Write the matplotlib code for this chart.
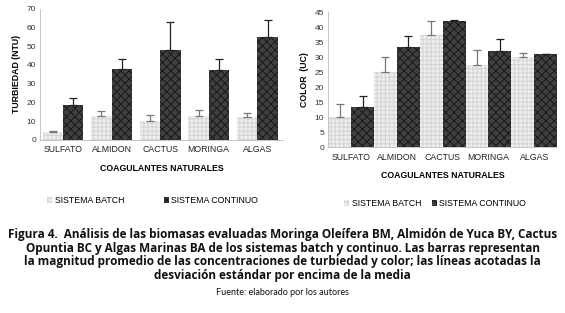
"""Figura 4: turbiedad y color por coagulante, sistemas batch y continuo."""
import numpy as np
import matplotlib
matplotlib.use('Agg')
import matplotlib.pyplot as plt
from matplotlib.patches import Patch

categories = ['SULFATO', 'ALMIDON', 'CACTUS', 'MORINGA', 'ALGAS']

# Turbiedad (NTU): media y desviacion estandar
turb_batch = [4, 13, 10, 13, 12]
turb_batch_sd = [1, 2.5, 3.5, 3, 2.5]
turb_cont = [18.5, 38, 48, 37.5, 55]
turb_cont_sd = [4, 5, 15, 5.5, 9]

# Color (UC): media y desviacion estandar
color_batch = [10, 25, 37.5, 27.5, 30]
color_batch_sd = [4.5, 5, 4.5, 5, 1.5]
color_cont = [13.5, 33.5, 42, 32, 31]
color_cont_sd = [3.5, 3.5, 0.3, 4, 0.2]

plt.rcParams['font.family'] = ['Liberation Sans', 'DejaVu Sans']
plt.rcParams['hatch.linewidth'] = 0.8

BATCH = dict(facecolor='#eeeeee', edgecolor='#d6d6d6', hatch='++++', linewidth=0)
CONT = dict(facecolor='#404040', edgecolor='#1c1c1c', hatch='xxxx', linewidth=0)


def draw_panel(ax, batch, batch_sd, cont, cont_sd, width, xlim, ymax, step, ylabel):
    x = np.arange(len(categories))
    ax.bar(x - width / 2, batch, width, **BATCH)
    ax.bar(x + width / 2, cont, width, **CONT)
    ax.errorbar(x - width / 2, batch, yerr=[np.zeros(len(batch)), batch_sd],
                fmt='none', ecolor='#777777', elinewidth=0.9, capsize=3, capthick=0.9)
    ax.errorbar(x + width / 2, cont, yerr=[np.zeros(len(cont)), cont_sd],
                fmt='none', ecolor='#222222', elinewidth=0.9, capsize=3, capthick=0.9)
    ax.set_xlim(*xlim)
    ax.set_ylim(0, ymax)
    ax.set_yticks(np.arange(0, ymax + 1, step))
    ax.set_xticks(x)
    ax.set_xticklabels(categories, fontsize=6.3, color='#222222')
    ax.tick_params(axis='y', labelsize=6, colors='#333333', length=0, pad=3)
    ax.tick_params(axis='x', length=0, pad=4)
    for side in ['top', 'right']:
        ax.spines[side].set_visible(False)
    for side in ['left', 'bottom']:
        ax.spines[side].set_color('#bbbbbb')
        ax.spines[side].set_linewidth(0.6)
    ax.set_xlabel('COAGULANTES NATURALES', fontsize=6.3, fontweight='bold', labelpad=7)
    ax.set_ylabel(ylabel, fontsize=6.3, fontweight='bold', labelpad=4)


fig = plt.figure(figsize=(5.65, 3.13), dpi=100)

ax1 = fig.add_axes([0.071, 0.553, 0.43, 0.419])
draw_panel(ax1, turb_batch, turb_batch_sd, turb_cont, turb_cont_sd,
           0.42, (-0.47, 4.53), 70, 10, 'TURBIEDAD (NTU)')

ax2 = fig.add_axes([0.581, 0.530, 0.405, 0.431])
draw_panel(ax2, color_batch, color_batch_sd, color_cont, color_cont_sd,
           0.5, (-0.5, 4.5), 45, 5, 'COLOR  (UC)')

handles = [Patch(**BATCH, label='SISTEMA BATCH'), Patch(**CONT, label='SISTEMA CONTINUO')]
fig.legend(handles=handles, loc='center', bbox_to_anchor=(0.27, 0.36), ncol=2,
           frameon=False, fontsize=6.3, handlelength=0.6, handleheight=0.6,
           handletextpad=0.3, columnspacing=4.5)
fig.legend(handles=handles, loc='center', bbox_to_anchor=(0.77, 0.35), ncol=2,
           frameon=False, fontsize=6.3, handlelength=0.6, handleheight=0.6,
           handletextpad=0.3, columnspacing=1.2)

caption = ('Figura 4.  Análisis de las biomasas evaluadas Moringa Oleífera BM, Almidón de Yuca BY, Cactus\n'
           'Opuntia BC y Algas Marinas BA de los sistemas batch y continuo. Las barras representan\n'
           'la magnitud promedio de las concentraciones de turbiedad y color; las líneas acotadas la\n'
           'desviación estándar por encima de la media')
fig.text(0.5, 0.185, caption, ha='center', va='center', fontsize=8.5,
         fontweight='bold', family='Open Sans', linespacing=1.05, color='#111111')
fig.text(0.5, 0.067, 'Fuente: elaborado por los autores', ha='center', va='center',
         fontsize=6.5, family='Lato', color='#111111')

fig.savefig('out.png', dpi=100)
